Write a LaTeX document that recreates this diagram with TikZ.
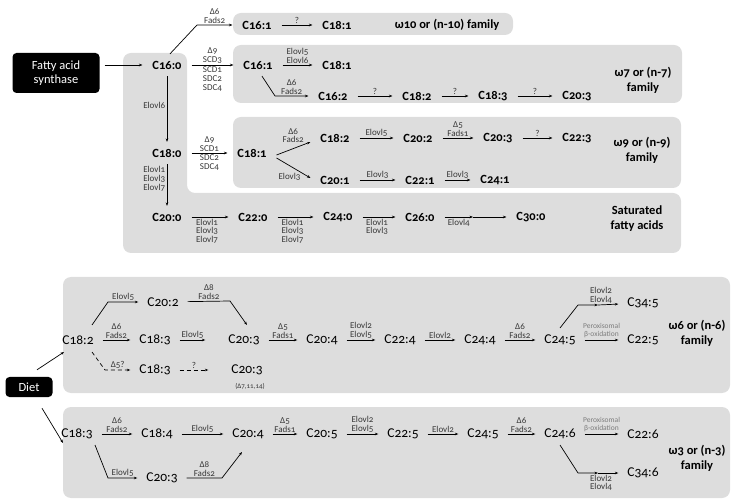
\documentclass[tikz,border=0pt]{standalone}
\usepackage{fontspec}
\setmainfont{Carlito}[Numbers=OldStyle]
\usetikzlibrary{arrows.meta,calc}
\definecolor{boxgray}{RGB}{221,221,221}
\definecolor{enzgray}{RGB}{55,55,55}
\definecolor{peroxgray}{RGB}{125,125,125}
\tikzset{
  panel/.style={fill=boxgray, draw=none, rounded corners=8pt},
  blackbox/.style={fill=black, rounded corners=4pt, text=white, align=center, font=\fontsize{12.5}{14.5}\selectfont, inner sep=0pt},
  acid/.style={font=\fontsize{12.5}{13}\selectfont\bfseries, inner xsep=1pt, inner ysep=1pt, outer xsep=9pt, outer ysep=6pt},
  acidr/.style={font=\fontsize{13.5}{14}\selectfont, inner xsep=1pt, inner ysep=1pt, outer xsep=8pt, outer ysep=5pt},
  fam/.style={font=\fontsize{12.5}{15}\selectfont\bfseries, align=center},
  enz/.style={font=\fontsize{9}{8.8}\selectfont, text=enzgray, align=center, inner sep=1.5pt},
  perox/.style={font=\fontsize{7.5}{8}\selectfont, text=peroxgray, align=center, inner sep=1.5pt},
  arr/.style={-{Stealth[length=3.5pt,width=2.6pt]}, line width=0.7pt},
  darr/.style={arr, dash pattern=on 4pt off 3pt},
}
\begin{document}
\begin{tikzpicture}[x=1pt,y=-1pt]
\useasboundingbox (0,0) rectangle (736,502);
% panels
\fill[panel] (233,13) rectangle (513,35);
\fill[panel] (233,45) rectangle (682,103);
\fill[panel] (233,117) rectangle (681,188);
\fill[panel] (123,53) -- (187,53) -- (187,193) -- (681,193) -- (681,253) -- (123,253) -- cycle;
\fill[panel] (63,277) rectangle (730,393);
\fill[panel] (63,407) rectangle (730,498);

% ---------- top part ----------
\node[blackbox, minimum width=87pt, minimum height=40pt] (fas) at (56,73) {Fatty acid\\synthase};
\node[acid] (c160) at (167,65) {C16:0};
\node[acid] (c161a) at (257,25) {C16:1};
\node[acid] (c181a) at (337,25) {C18:1};
\node[fam] (f10) at (447,25) {ω10 or (n-10) family};
\node[acid] (c161b) at (258,65) {C16:1};
\node[acid] (c181b) at (337,65) {C18:1};
\node[acid] (c162) at (333,96) {C16:2};
\node[acid] (c182a) at (417,96) {C18:2};
\node[acid] (c183a) at (493,96) {C18:3};
\node[acid] (c203a) at (577,96) {C20:3};
\node[fam] (f7) at (643,80) {ω7 or (n-7)\\family};
\node[acid] (c180) at (167,153) {C18:0};
\node[acid] (c181c) at (252,153) {C18:1};
\node[acid] (c182b) at (335,138) {C18:2};
\node[acid] (c202) at (418,138) {C20:2};
\node[acid] (c203b) at (498,138) {C20:3};
\node[acid] (c223) at (577,138) {C22:3};
\node[acid] (c201) at (335,180) {C20:1};
\node[acid] (c221) at (420,180) {C22:1};
\node[acid] (c241) at (495,180) {C24:1};
\node[fam] (f9) at (642,150) {ω9 or (n-9)\\family};
\node[acid] (c200) at (167,217) {C20:0};
\node[acid] (c220) at (253,217) {C22:0};
\node[acid] (c240) at (338,217) {C24:0};
\node[acid] (c260) at (420,217) {C26:0};
\node[acid] (c300) at (531,217) {C30:0};
\node[fam] (fs) at (637,219) {Saturated\\fatty acids};
\coordinate (m30) at (473,217);
\coordinate (b10) at (197,25);
\coordinate (b7) at (275,96);

\draw[arr] ($(fas.east |- c160)+(5,0)$) -- (c160);
\draw[arr] ([xshift=3pt]c160.north) -- (b10) -- (c161a) node[midway, enz, above] {Δ6\\Fads2};
\draw[arr] (c160) -- (c161b) node[midway, enz, above] {Δ9\\SCD3} node[midway, enz, below] {SCD1\\SDC2\\SDC4};
\draw[arr] (c161a) -- (c181a) node[midway, enz, above] {?};
\draw[arr] (c161b) -- (c181b) node[midway, enz, above] {Elovl5\\Elovl6};
\draw[arr] ([xshift=4pt]c161b.south) -- (b7) -- (c162) node[midway, enz, above] {Δ6\\Fads2};
\draw[arr] (c162) -- (c182a) node[midway, enz, above] {?};
\draw[arr] (c182a) -- (c183a) node[midway, enz, above] {?};
\draw[arr] (c183a) -- (c203a) node[midway, enz, above] {?};
\draw[arr] (c160) -- (c180) node[pos=0.45, enz, left] {Elovl6};
\draw[arr] (c180) -- (c181c) node[midway, enz, above] {Δ9\\SCD1} node[midway, enz, below] {SDC2\\SDC4};
\draw[arr] ([yshift=-2pt]c181c.east) -- ([yshift=-4pt]c182b.west) node[pos=0.55, enz, above=3pt, xshift=-2pt] {Δ6\\Fads2};
\draw[arr] ([yshift=-5pt]c181c.east) -- ([yshift=2pt]c201.west) node[pos=0.5, enz, below=3pt, xshift=-4pt] {Elovl3};
\draw[arr] (c182b) -- (c202) node[midway, enz, above] {Elovl5};
\draw[arr] (c202) -- (c203b) node[midway, enz, above] {Δ5\\Fads1};
\draw[arr] (c203b) -- (c223) node[midway, enz, above] {?};
\draw[arr] (c201) -- (c221) node[midway, enz, above] {Elovl3};
\draw[arr] (c221) -- (c241) node[midway, enz, above] {Elovl3};
\draw[arr] (c180) -- (c200) node[pos=0.35, enz, left] {Elovl1\\Elovl3\\Elovl7};
\draw[arr] (c200) -- (c220) node[midway, enz, below, xshift=-3pt] {Elovl1\\Elovl3\\Elovl7};
\draw[arr] (c220) -- (c240) node[midway, enz, below, xshift=-3pt] {Elovl1\\Elovl3\\Elovl7};
\draw[arr] (c240) -- (c260) node[midway, enz, below, xshift=-2pt] {Elovl1\\Elovl3};
\draw[arr] (c260) -- (m30) node[midway, enz, below] {Elovl4};
\draw[arr] (m30) -- (c300);

% ---------- bottom part ----------
\node[blackbox, minimum width=47pt, minimum height=20pt] (diet) at (29,387) {Diet};
\node[acidr] (c182) at (78,340) {C18:2};
\node[acidr] (c202b) at (163,302) {C20:2};
\node[acidr] (c183b) at (155,340) {C18:3};
\node[acidr] (c203c) at (244,340) {C20:3};
\node[acidr] (c204) at (322,340) {C20:4};
\node[acidr] (c224) at (400,340) {C22:4};
\node[acidr] (c244) at (480,340) {C24:4};
\node[acidr] (c245) at (560,340) {C24:5};
\node[acidr] (c345) at (643,303) {C34:5};
\node[acidr] (c225) at (643,340) {C22:5};
\node[acidr] (c183c) at (155,370) {C18:3};
\node[acidr] (c203d) at (247,370) {C20:3};
\node[enz, font=\fontsize{7}{7}\selectfont] (d71114) at (250,386) {(Δ7,11,14)};
\node[fam] (f6) at (697,333) {ω6 or (n-6)\\family};

\node[acidr] (c183d) at (77,434) {C18:3};
\node[acidr] (c184) at (157,434) {C18:4};
\node[acidr] (c204b) at (248,434) {C20:4};
\node[acidr] (c205) at (322,434) {C20:5};
\node[acidr] (c225b) at (403,434) {C22:5};
\node[acidr] (c245b) at (483,434) {C24:5};
\node[acidr] (c246) at (560,434) {C24:6};
\node[acidr] (c226) at (643,434) {C22:6};
\node[acidr] (c346) at (643,473) {C34:6};
\node[acidr] (c203e) at (162,478) {C20:3};
\node[fam] (f3) at (697,458) {ω3 or (n-3)\\family};

\coordinate (b62) at (108,302);
\coordinate (b63) at (230,301);
\coordinate (b65) at (578,305);
\coordinate (m65) at (598,305);
\coordinate (b6d) at (105,370);
\coordinate (b35) at (578,473);
\coordinate (m35) at (598,473);
\coordinate (b33) at (108,478);
\coordinate (b34) at (222,478);

\draw[arr] ($(diet.north)+(8,-7)$) -- ($(c182)+(-14,12)$);
\draw[arr] ($(diet.south)+(13,11)$) -- ($(c183d)+(-14,9)$);

\draw[arr] ($(c182)+(14,-15)$) -- (b62) -- (c202b) node[midway, enz, above] {Elovl5};
\draw[arr] (c202b) -- (b63) node[midway, enz, above] {Δ8\\Fads2} -- ($(c203c)+(3,-15)$);
\draw[arr] (c182) -- (c183b) node[midway, enz, above] {Δ6\\Fads2};
\draw[arr] (c183b) -- ([xshift=-14pt]c203c.west) node[midway, enz, above] {Elovl5};
\draw[arr] (c203c) -- (c204) node[midway, enz, above] {Δ5\\Fads1};
\draw[arr] (c204) -- (c224) node[midway, enz, above] {Elovl2\\Elovl5};
\draw[arr] (c224) -- (c244) node[midway, enz, above] {Elovl2};
\draw[arr] (c244) -- (c245) node[midway, enz, above] {Δ6\\Fads2};
\draw[arr] (c245) -- (c225) node[midway, perox, above] {Peroxisomal\\β-oxidation};
\draw[arr] ($(c245)+(0,-12)$) -- (b65) -- (m65);
\draw[arr] (m65) -- (c345) node[pos=0, enz, above, xshift=3pt] {Elovl2\\Elovl4};
\draw[darr] ($(c182)+(14,12)$) -- (b6d) -- (c183c) node[midway, enz, above] {Δ5?};
\draw[darr] (c183c) -- ([xshift=-14pt]c203d.west) node[midway, enz, above] {?};

\draw[arr] (c183d) -- (c184) node[midway, enz, above] {Δ6\\Fads2};
\draw[arr] (c184) -- (c204b) node[midway, enz, above] {Elovl5};
\draw[arr] (c204b) -- (c205) node[midway, enz, above] {Δ5\\Fads1};
\draw[arr] (c205) -- (c225b) node[midway, enz, above] {Elovl2\\Elovl5};
\draw[arr] (c225b) -- (c245b) node[midway, enz, above] {Elovl2};
\draw[arr] (c245b) -- (c246) node[midway, enz, above] {Δ6\\Fads2};
\draw[arr] (c246) -- (c226) node[midway, perox, above] {Peroxisomal\\β-oxidation};
\draw[arr] ($(c246)+(0,11)$) -- (b35) -- (m35);
\draw[arr] (m35) -- (c346) node[pos=0, enz, below, xshift=3pt] {Elovl2\\Elovl4};
\draw[arr] ($(c183d)+(18,11)$) -- (b33) -- (c203e) node[midway, enz, above] {Elovl5};
\draw[arr] (c203e) -- (b34) node[midway, enz, above] {Δ8\\Fads2} -- ($(c204b)+(-6,18)$);
\end{tikzpicture}
\end{document}
